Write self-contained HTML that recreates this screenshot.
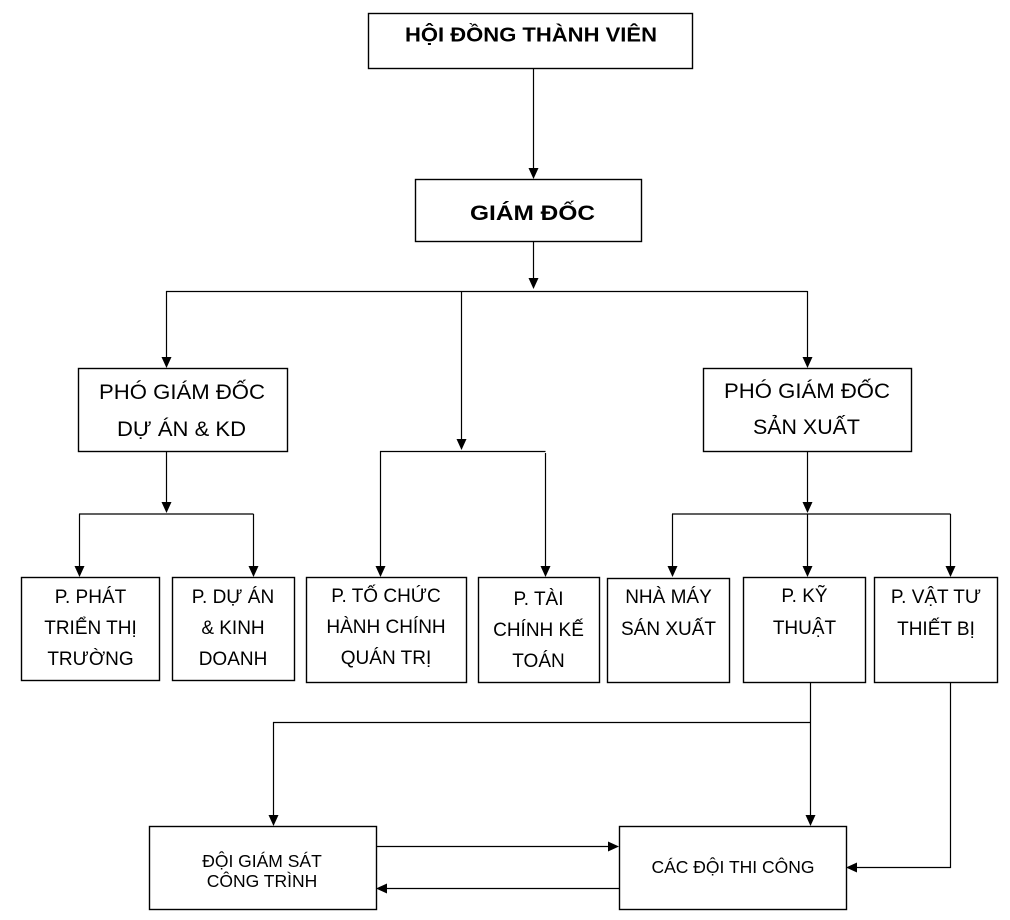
<!DOCTYPE html>
<html>
<head>
<meta charset="utf-8">
<style>
  html,body{margin:0;padding:0;background:#fff;}
  body{width:1010px;height:920px;overflow:hidden;}
  svg{display:block;}
  text{font-family:"Liberation Sans", Arial, sans-serif; fill:#000;}
</style>
</head>
<body>
<svg width="1010" height="920" viewBox="0 0 1010 920" xmlns="http://www.w3.org/2000/svg">
  <rect x="0" y="0" width="1010" height="920" fill="#fff"/>

  <!-- Boxes -->
  <g fill="#fff" stroke="#000" stroke-width="1.4">
    <rect x="368.5" y="13.5" width="324" height="55"/>
    <rect x="415.5" y="179.5" width="226" height="62"/>
    <rect x="78.5" y="368.5" width="209" height="83"/>
    <rect x="703.5" y="368.5" width="208" height="83"/>
    <rect x="21.5" y="577.5" width="138" height="103"/>
    <rect x="172.5" y="577.5" width="122" height="103"/>
    <rect x="306.5" y="577.5" width="160" height="105"/>
    <rect x="478.5" y="577.5" width="121" height="105"/>
    <rect x="607.5" y="578.5" width="122" height="104"/>
    <rect x="743.5" y="577.5" width="122" height="105"/>
    <rect x="874.5" y="577.5" width="123" height="105"/>
    <rect x="149.5" y="826.5" width="227" height="83"/>
    <rect x="619.5" y="826.5" width="227" height="83"/>
  </g>

  <!-- Connector lines -->
  <g fill="none" stroke="#000" stroke-width="1.2">
    <path d="M533.5 68 V170"/>
    <path d="M533.5 241 V280"/>
    <path d="M166 291.5 H807.5"/>
    <path d="M166.5 291 V358"/>
    <path d="M807.5 291 V358"/>
    <path d="M461.5 291 V440"/>
    <path d="M380 451.5 H545.5"/>
    <path d="M380.5 451 V567"/>
    <path d="M545.5 453 V567"/>
    <path d="M166.5 451 V503"/>
    <path d="M79 514 H253.5"/>
    <path d="M79.5 514 V567"/>
    <path d="M253.5 514 V567"/>
    <path d="M807.5 451 V503"/>
    <path d="M672 514 H950.5"/>
    <path d="M672.5 514 V567"/>
    <path d="M807.5 514 V567"/>
    <path d="M950.5 514 V567"/>
    <path d="M810.5 682 V816"/>
    <path d="M273 722.5 H810.5"/>
    <path d="M273.5 722 V816"/>
    <path d="M950.5 682 V867.5 H856"/>
    <path d="M376 846.5 H609"/>
    <path d="M619 888.5 H386"/>
  </g>

  <!-- Arrowheads -->
  <g fill="#000" stroke="none">
    <polygon points="528.5,168 538.5,168 533.5,179"/>
    <polygon points="528.5,278 538.5,278 533.5,289"/>
    <polygon points="161.5,357 171.5,357 166.5,368"/>
    <polygon points="802.5,357 812.5,357 807.5,368"/>
    <polygon points="456.5,439 466.5,439 461.5,450"/>
    <polygon points="375.5,566 385.5,566 380.5,577"/>
    <polygon points="540.5,566 550.5,566 545.5,577"/>
    <polygon points="161.5,502 171.5,502 166.5,513"/>
    <polygon points="74.5,566 84.5,566 79.5,577"/>
    <polygon points="248.5,566 258.5,566 253.5,577"/>
    <polygon points="802.5,502 812.5,502 807.5,513"/>
    <polygon points="667.5,566 677.5,566 672.5,577"/>
    <polygon points="802.5,566 812.5,566 807.5,577"/>
    <polygon points="945.5,566 955.5,566 950.5,577"/>
    <polygon points="805.5,815 815.5,815 810.5,826"/>
    <polygon points="268.5,815 278.5,815 273.5,826"/>
    <polygon points="857,862.5 857,872.5 846,867.5"/>
    <polygon points="608,841.5 608,851.5 619,846.5"/>
    <polygon points="387,883.5 387,893.5 376,888.5"/>
  </g>

  <!-- Text -->
  <g text-anchor="middle">
    <text x="531" y="41.5" font-size="20" font-weight="bold" textLength="252" lengthAdjust="spacingAndGlyphs">HỘI ĐỒNG THÀNH VIÊN</text>
    <text x="532.5" y="220" font-size="21" font-weight="bold" textLength="125" lengthAdjust="spacingAndGlyphs">GIÁM ĐỐC</text>

    <text x="182" y="399" font-size="21" textLength="166" lengthAdjust="spacingAndGlyphs">PHÓ GIÁM ĐỐC</text>
    <text x="181.5" y="436" font-size="21" textLength="129" lengthAdjust="spacingAndGlyphs">DỰ ÁN &amp; KD</text>

    <text x="807" y="398" font-size="21" textLength="166" lengthAdjust="spacingAndGlyphs">PHÓ GIÁM ĐỐC</text>
    <text x="806.5" y="434" font-size="21" textLength="107" lengthAdjust="spacingAndGlyphs">SẢN XUẤT</text>

    <g font-size="19">
      <text x="90.5" y="603">P. PHÁT</text>
      <text x="90.5" y="634">TRIỂN THỊ</text>
      <text x="90.5" y="665">TRƯỜNG</text>

      <text x="233" y="603">P. DỰ ÁN</text>
      <text x="233" y="634">&amp; KINH</text>
      <text x="233" y="665">DOANH</text>

      <text x="386" y="602">P. TỐ CHỨC</text>
      <text x="386" y="633">HÀNH CHÍNH</text>
      <text x="386" y="664">QUÁN TRỊ</text>

      <text x="538.5" y="605">P. TÀI</text>
      <text x="538.5" y="636">CHÍNH KẾ</text>
      <text x="538.5" y="667">TOÁN</text>

      <text x="668.5" y="603">NHÀ MÁY</text>
      <text x="668.5" y="635">SÁN XUẤT</text>

      <text x="804.5" y="602">P. KỸ</text>
      <text x="804.5" y="634">THUẬT</text>

      <text x="936" y="603">P. VẬT TƯ</text>
      <text x="936" y="635">THIẾT BỊ</text>
    </g>

    <g font-size="17.5">
      <text x="262" y="867">ĐỘI GIÁM SÁT</text>
      <text x="262" y="887">CÔNG TRÌNH</text>
      <text x="733" y="873">CÁC ĐỘI THI CÔNG</text>
    </g>
  </g>
</svg>
</body>
</html>
